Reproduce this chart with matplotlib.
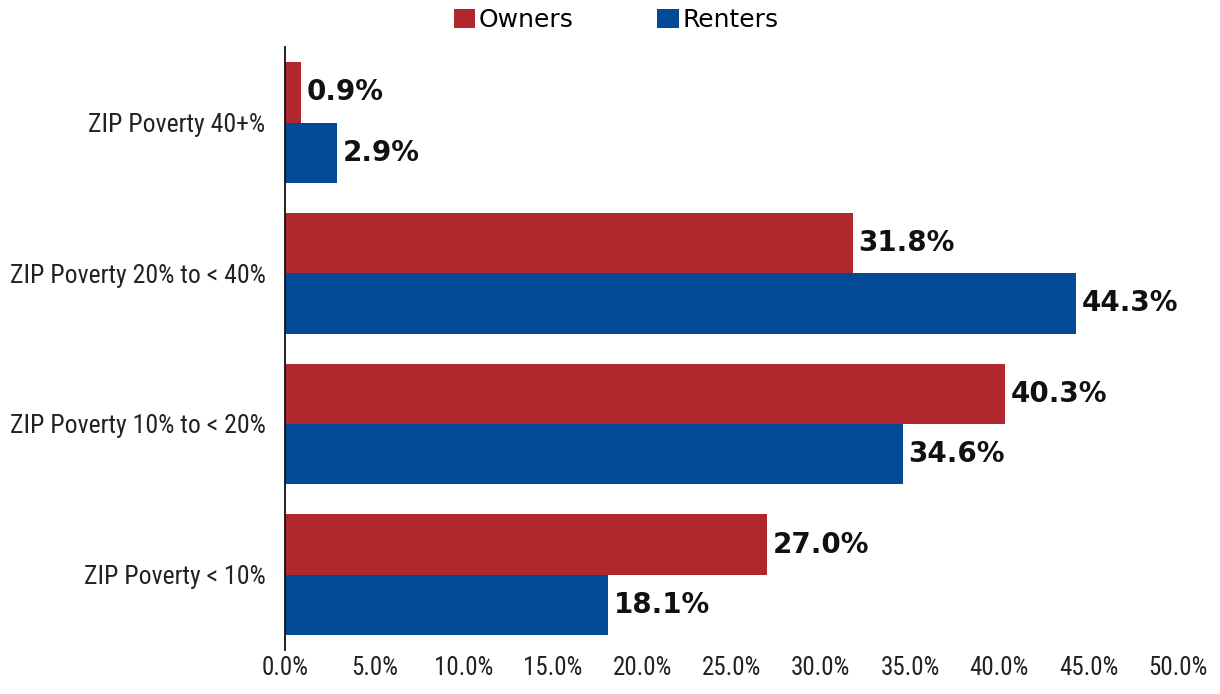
import numpy as np
import matplotlib
matplotlib.use("Agg")
from matplotlib import pyplot as plt
from matplotlib import font_manager as fm

# 数据
categories = ["ZIP Poverty < 10%", "ZIP Poverty 10% to < 20%",
              "ZIP Poverty 20% to < 40%", "ZIP Poverty 40+%"]
owners = [27.0, 40.3, 31.8, 0.9]
renters = [18.1, 34.6, 44.3, 2.9]
x_ticks = [0, 5, 10, 15, 20, 25, 30, 35, 40, 45, 50]

red = "#B0272D"
blue = "#034A96"

names = {f.name for f in fm.fontManager.ttflist}
narrow = "DejaVu Sans"
for cand in ["Roboto Condensed", "Liberation Sans Narrow", "Roboto"]:
    if cand in names:
        narrow = cand
        break

fig = plt.figure(figsize=(12.2, 6.94), dpi=100)
ax = fig.add_axes([0.2336, 0.0634, 0.9656 - 0.2336, 0.932 - 0.0634])

y = np.arange(len(categories))
h = 0.4
b1 = ax.barh(y + h / 2, owners, height=h, color=red, label="Owners")
b2 = ax.barh(y - h / 2, renters, height=h, color=blue, label="Renters")

for bars, vals in [(b1, owners), (b2, renters)]:
    for b, v in zip(bars, vals):
        ax.annotate("%.1f%%" % v, (b.get_width(), b.get_y() + b.get_height() / 2),
                    xytext=(4, 0), textcoords="offset points", va="center", ha="left",
                    fontsize=20, fontweight="bold", color="#111111")

ax.set_xlim(0, 50)
ax.set_ylim(-0.5, 3.5)
ax.set_xticks(x_ticks)
ax.set_xticklabels(["%.1f%%" % t for t in x_ticks], family=narrow, fontsize=18, color="#222222")
ax.set_yticks(y)
ax.set_yticklabels(categories, family=narrow, fontsize=18.5, color="#222222")
ax.tick_params(axis="x", length=0, pad=4)
ax.tick_params(axis="y", length=0, pad=14)
for s in ["top", "right", "bottom"]:
    ax.spines[s].set_visible(False)
ax.spines["left"].set_linewidth(1.3)
ax.spines["left"].set_color("#111111")

fig.legend(handles=[b1, b2], labels=["Owners", "Renters"], loc="center",
           bbox_to_anchor=(0.505, 0.971), ncol=2, frameon=False,
           handlelength=0.85, handleheight=0.85, handletextpad=0.15,
           columnspacing=3.35, prop={"size": 18})

fig.savefig("out.png", dpi=100)
